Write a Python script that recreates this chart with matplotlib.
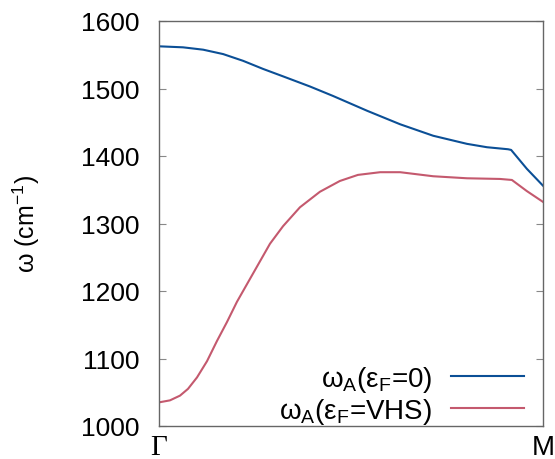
import matplotlib
matplotlib.use("Agg")
import matplotlib.pyplot as plt

plt.rcParams['font.family'] = ['Liberation Sans', 'DejaVu Sans']
plt.rcParams['mathtext.fontset'] = 'custom'
plt.rcParams['mathtext.rm'] = 'Liberation Sans'
plt.rcParams['mathtext.it'] = 'Liberation Sans'

# Data (x: fraction of path from Gamma to M)
x_blue = [0.0, 0.0625, 0.115, 0.167, 0.219, 0.271, 0.323, 0.393, 0.453, 0.542,
          0.628, 0.714, 0.802, 0.854, 0.909, 0.917, 0.958, 1.0]
w_blue = [1562.5, 1561, 1557.5, 1551, 1541, 1529, 1518, 1503, 1489, 1467,
          1447, 1430, 1418, 1413, 1410, 1409, 1381, 1356]

x_red = [0.0, 0.0286, 0.0547, 0.0755, 0.099, 0.125, 0.151, 0.177, 0.203, 0.237,
         0.255, 0.289, 0.323, 0.367, 0.419, 0.471, 0.518, 0.576, 0.628, 0.714,
         0.802, 0.888, 0.919, 0.958, 1.0]
w_red = [1035, 1038, 1045, 1055, 1072, 1096, 1126, 1154, 1184, 1218,
         1236, 1270, 1296, 1324, 1347, 1363, 1372, 1376, 1376, 1370,
         1367, 1366, 1364.5, 1348, 1332]

y_ticks = [1000, 1100, 1200, 1300, 1400, 1500, 1600]
x_tick_pos = [0.0, 1.0]
x_tick_labels = ['Γ', 'M']
labels = [r'ω$_{\mathrm{A}}$(ε$_{\mathrm{F}}$=0)', r'ω$_{\mathrm{A}}$(ε$_{\mathrm{F}}$=VHS)']

fig = plt.figure(figsize=(5.55, 4.6), dpi=100)
ax = fig.add_axes([159/555, 1-427/460, (543-159)/555, (427-22)/460])

ax.plot(x_blue, w_blue, color='#0b4f96', lw=1.5, label=labels[0])
ax.plot(x_red, w_red, color='#c4596e', lw=1.5, label=labels[1])

ax.set_xlim(0, 1)
ax.set_ylim(1000, 1600)
ax.set_yticks(y_ticks)
ax.set_yticklabels([str(v) for v in y_ticks], fontsize=19)
ax.set_xticks(x_tick_pos)
ax.set_xticklabels(x_tick_labels, fontsize=20)
for lab in ax.get_xticklabels():
    if lab.get_text() == 'Γ':
        lab.set_family(['Liberation Serif', 'DejaVu Serif'])
        lab.set_fontsize(21)

ax.tick_params(axis='y', which='both', direction='in', length=5, color='#888888',
               left=True, right=True, pad=13.7)
ax.tick_params(axis='x', length=0, pad=6)
for s in ax.spines.values():
    s.set_color('#666666')
    s.set_linewidth(1.0)

ax.set_ylabel(r'ω (cm$^{-1}$)', fontsize=18, labelpad=28)

leg = ax.legend(loc='lower right', frameon=False, fontsize=20, markerfirst=False,
                handlelength=2.6, handletextpad=0.7, labelspacing=0.05,
                borderaxespad=0.2, bbox_to_anchor=(0.993, -0.04))
for t in leg.get_texts():
    t.set_ha('right')

fig.savefig('out.png', dpi=100)
